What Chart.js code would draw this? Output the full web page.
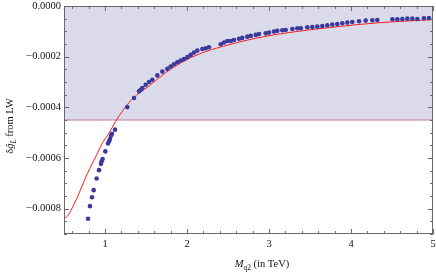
<!DOCTYPE html>
<html>
<head>
<meta charset="utf-8">
<script src="https://cdn.jsdelivr.net/npm/chart.js@4.4.1/dist/chart.umd.min.js"></script>
<style>
  html, body { margin: 0; padding: 0; background: #fff; }
</style>
</head>
<body>
<canvas id="chart" width="436" height="274"></canvas>
<script>
// values (y in units of 1e-4)
const curveMass = [0.50, 0.53, 0.56, 0.60, 0.66, 0.72, 0.78, 0.85, 0.91, 0.97, 1.05, 1.13, 1.21, 1.33,
  1.54, 1.74, 1.94, 2.15, 2.43, 2.84, 3.24, 3.73, 4.34, 5.00];
const curveShift = [-8.36, -8.33, -8.22, -7.97, -7.57, -7.11, -6.65, -6.19, -5.80, -5.40, -5.01, -4.55, -4.16, -3.68,
  -3.15, -2.63, -2.22, -1.89, -1.60, -1.27, -1.05, -0.853, -0.66, -0.54];

const scanMass = [0.793, 0.817, 0.841, 0.862, 0.898, 0.927, 0.951, 0.959, 0.971, 1.004, 1.037, 1.049, 1.061, 1.073,
  1.085, 1.122, 1.272, 1.354, 1.415, 1.435, 1.455, 1.496, 1.537, 1.577, 1.638, 1.699, 1.760, 1.801, 1.841,
  1.882, 1.923, 1.963, 2.004, 2.045, 2.085, 2.126, 2.187, 2.228, 2.268, 2.411, 2.451, 2.492, 2.533, 2.573,
  2.634, 2.674, 2.735, 2.777, 2.838, 2.878, 2.960, 3.000, 3.061, 3.101, 3.162, 3.204, 3.285, 3.345, 3.387,
  3.467, 3.528, 3.589, 3.650, 3.711, 3.772, 3.833, 3.894, 3.955, 4.016, 4.098, 4.179, 4.260, 4.321, 4.504,
  4.565, 4.626, 4.687, 4.748, 4.809, 4.890, 4.951];
const scanShift = [-8.40, -7.90, -7.55, -7.27, -6.81, -6.48, -6.23, -6.13, -6.04, -5.74, -5.43, -5.34, -5.25, -5.12,
  -5.04, -4.88, -3.99, -3.63, -3.37, -3.31, -3.24, -3.11, -3.00, -2.91, -2.74, -2.59, -2.48, -2.39, -2.30,
  -2.22, -2.15, -2.09, -2.02, -1.93, -1.84, -1.76, -1.70, -1.67, -1.63, -1.51, -1.44, -1.38, -1.38, -1.34,
  -1.29, -1.26, -1.21, -1.18, -1.14, -1.11, -1.08, -1.05, -1.01, -0.98, -0.96, -0.945, -0.906, -0.879, -0.879,
  -0.840, -0.827, -0.814, -0.787, -0.761, -0.735, -0.709, -0.682, -0.656, -0.630, -0.604, -0.577, -0.564, -0.551, -0.525,
  -0.525, -0.512, -0.500, -0.500, -0.512, -0.485, -0.472];

const boundLevel = -4.5;
const xRange = [0.5, 5];
const yRange = [-9, 0];

const xTicks = [1, 2, 3, 4, 5];
const yTicks = [0, -2, -4, -6, -8];
const yTickLabels = ['0.0000', '\u22120.0002', '\u22120.0004', '\u22120.0006', '\u22120.0008'];

const SERIF = '"Liberation Serif", "DejaVu Serif", serif';
const E4 = 1e-4;

const curvePts = curveMass.map((m, i) => ({ x: m, y: curveShift[i] * E4 }));
const scanPts = scanMass.map((m, i) => ({ x: m, y: scanShift[i] * E4 }));

// frame with inward ticks on all four sides, plus axis titles with subscripts
const frame = {
  id: 'frame',
  afterDatasetsDraw(chart) {
    const { ctx, chartArea: a, scales: { x, y } } = chart;
    ctx.save();
    ctx.strokeStyle = '#6a6a6a';
    ctx.lineWidth = 1;
    ctx.beginPath();
    for (let k = 3; k <= 25; k++) {
      const v = k * 0.2;
      const px = Math.round(x.getPixelForValue(v)) + 0.5;
      const len = k % 5 === 0 ? 5 : 3;
      ctx.moveTo(px, a.bottom); ctx.lineTo(px, a.bottom - len);
      ctx.moveTo(px, a.top); ctx.lineTo(px, a.top + len);
    }
    for (let k = 0; k <= 18; k++) {
      const v = -k * 0.5 * E4;
      const py = Math.round(y.getPixelForValue(v)) + 0.5;
      const len = k % 4 === 0 ? 5 : 3;
      ctx.moveTo(a.left, py); ctx.lineTo(a.left + len, py);
      ctx.moveTo(a.right, py); ctx.lineTo(a.right - len, py);
    }
    ctx.stroke();
    ctx.strokeRect(a.left + 0.5, a.top + 0.5, a.right - a.left - 1, a.bottom - a.top - 1);

    ctx.fillStyle = '#111';
    ctx.textBaseline = 'alphabetic';
    // x title: M_q2 (in TeV)
    const parts = [
      ['italic 10.5px ' + SERIF, 'M', 0],
      ['7.5px ' + SERIF, 'q2', 2.5],
      ['10.5px ' + SERIF, ' (in TeV)', 0]
    ];
    let w = 0;
    parts.forEach(p => { ctx.font = p[0]; w += ctx.measureText(p[1]).width; });
    let cx = 262 - w / 2;
    parts.forEach(p => { ctx.font = p[0]; ctx.fillText(p[1], cx, 267 + p[2]); cx += ctx.measureText(p[1]).width; });

    // y title: δĝ_L from LW (rotated)
    ctx.translate(13, 126);
    ctx.rotate(-Math.PI / 2);
    const yp = [
      ['10.5px ' + SERIF, '\u03b4', 0],
      ['italic 10.5px ' + SERIF, '\u011d', 0],
      ['italic 7.5px ' + SERIF, 'L', 2.5],
      ['10.5px ' + SERIF, ' from LW', 0]
    ];
    w = 0;
    yp.forEach(p => { ctx.font = p[0]; w += ctx.measureText(p[1]).width; });
    cx = -w / 2;
    yp.forEach(p => { ctx.font = p[0]; ctx.fillText(p[1], cx, p[2]); cx += ctx.measureText(p[1]).width; });
    ctx.restore();
  }
};

new Chart(document.getElementById('chart'), {
  data: {
    datasets: [
      {
        type: 'line',
        data: [{ x: xRange[0], y: boundLevel * E4 }, { x: xRange[1], y: boundLevel * E4 }],
        borderColor: 'rgb(192,118,158)',
        borderWidth: 1,
        backgroundColor: 'rgb(218,218,235)',
        fill: 'end',
        pointRadius: 0,
        order: 3
      },
      {
        type: 'line',
        data: curvePts,
        borderColor: 'rgb(250,30,30)',
        borderWidth: 1,
        pointRadius: 0,
        cubicInterpolationMode: 'monotone',
        fill: false,
        order: 2
      },
      {
        type: 'scatter',
        data: scanPts,
        backgroundColor: 'rgb(58,58,158)',
        borderWidth: 0,
        pointRadius: 2.3,
        order: 1
      }
    ]
  },
  options: {
    responsive: false,
    animation: false,
    devicePixelRatio: 1,
    layout: { autoPadding: false, padding: { top: 6, right: 3, left: 0, bottom: 0 } },
    plugins: { legend: { display: false }, tooltip: { enabled: false } },
    scales: {
      x: {
        type: 'linear',
        min: xRange[0],
        max: xRange[1],
        afterFit: s => { s.height = 40; s.paddingLeft = 0; s.paddingRight = 0; },
        afterBuildTicks: s => { s.ticks = xTicks.map(v => ({ value: v })); },
        grid: { display: false, drawTicks: false },
        border: { display: false },
        ticks: {
          padding: 4,
          color: '#111',
          font: { family: SERIF, size: 10.5 },
          maxRotation: 0,
          callback: v => String(v)
        }
      },
      y: {
        type: 'linear',
        min: yRange[0] * E4,
        max: yRange[1] * E4,
        afterFit: s => { s.width = 64; s.paddingTop = 0; s.paddingBottom = 0; },
        afterBuildTicks: s => { s.ticks = yTicks.map(v => ({ value: v * E4 })); },
        grid: { display: false, drawTicks: false },
        border: { display: false },
        ticks: {
          padding: 3,
          color: '#111',
          font: { family: SERIF, size: 10.5 },
          callback: v => yTickLabels[yTicks.indexOf(Math.round(v / E4))]
        }
      }
    }
  },
  plugins: [frame]
});
</script>
</body>
</html>
